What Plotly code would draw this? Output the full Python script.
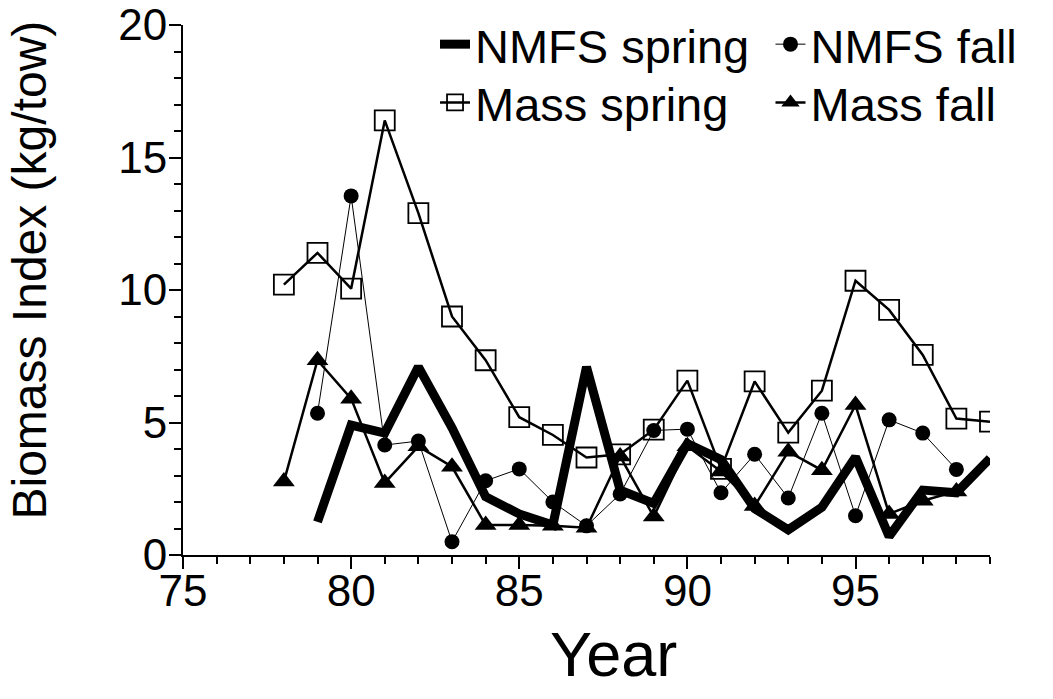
import plotly.graph_objects as go

# ---- data ----
years_nmfs_spring = [79, 80, 81, 82, 83, 84, 85, 86, 87, 88, 89, 90, 91, 92, 93, 94, 95, 96, 97, 98, 99]
nmfs_spring = [1.25, 4.9, 4.6, 7.1, 4.8, 2.2, 1.55, 1.13, 7.1, 2.45, 1.95, 4.2, 3.6, 1.75, 0.95, 1.8, 3.7, 0.7, 2.45, 2.35, 3.65]

years_nmfs_fall = [79, 80, 81, 82, 83, 84, 85, 86, 87, 88, 89, 90, 91, 92, 93, 94, 95, 96, 97, 98]
nmfs_fall = [5.35, 13.55, 4.15, 4.3, 0.5, 2.8, 3.25, 2.0, 1.1, 2.3, 4.7, 4.75, 2.35, 3.8, 2.15, 5.35, 1.48, 5.1, 4.6, 3.23]

years_mass_spring = [78, 79, 80, 81, 82, 83, 84, 85, 86, 87, 88, 89, 90, 91, 92, 93, 94, 95, 96, 97, 98, 99]
mass_spring = [10.2, 11.4, 10.05, 16.4, 12.9, 9.0, 7.35, 5.2, 4.53, 3.68, 3.8, 4.73, 6.58, 3.25, 6.55, 4.62, 6.2, 10.35, 9.25, 7.55, 5.15, 5.03]

years_mass_fall = [78, 79, 80, 81, 82, 83, 84, 85, 86, 87, 88, 89, 90, 91, 92, 93, 94, 95, 96, 97, 98]
mass_fall = [2.77, 7.35, 5.9, 2.72, 4.1, 3.33, 1.13, 1.13, 1.1, 1.03, 3.72, 1.45, 4.1, 3.15, 1.85, 3.9, 3.2, 5.66, 1.55, 2.05, 2.4]

x_range = [75, 99]
y_range = [0, 20]
x_ticks = [75, 80, 85, 90, 95]
y_ticks = [0, 5, 10, 15, 20]
x_title = "Year"
y_title = "Biomass Index (kg/tow)"

FONT = "Liberation Sans, Arial, Helvetica, sans-serif"

fig = go.Figure()

fig.add_trace(go.Scatter(
    x=years_mass_spring, y=mass_spring, name="Mass spring", mode="lines+markers",
    line=dict(color="black", width=2.5),
    marker=dict(symbol="square-open", size=20, color="black", line=dict(width=1.8, color="black")),
    legend="legend3",
))
fig.add_trace(go.Scatter(
    x=years_nmfs_fall, y=nmfs_fall, name="NMFS fall", mode="lines+markers",
    line=dict(color="black", width=1),
    marker=dict(symbol="circle", size=15, color="black"),
    legend="legend2",
))
fig.add_trace(go.Scatter(
    x=years_mass_fall, y=mass_fall, name="Mass fall", mode="lines+markers",
    line=dict(color="black", width=2.5),
    marker=dict(symbol="triangle-up", size=19, color="black"),
    legend="legend4",
))
fig.add_trace(go.Scatter(
    x=years_nmfs_spring, y=nmfs_spring, name="NMFS spring", mode="lines",
    line=dict(color="black", width=9),
    legend="legend",
))

axis_common = dict(
    showline=True, linecolor="black", linewidth=2, mirror=False,
    showgrid=False, zeroline=False, automargin=False,
    ticks="outside", tickcolor="black", tickwidth=2, ticklen=12,
    tickfont=dict(family=FONT, size=44, color="black"),
)

fig.update_xaxes(
    range=x_range, tickmode="array", tickvals=x_ticks, ticklabelstandoff=-16,
    minor=dict(dtick=1, tick0=75, ticks="outside", ticklen=7, tickcolor="black", tickwidth=2),
    **axis_common,
)
fig.update_yaxes(
    range=y_range, tickmode="array", tickvals=y_ticks, ticklabelstandoff=-7,
    minor=dict(dtick=1, tick0=0, ticks="outside", ticklen=7, tickcolor="black", tickwidth=2),
    **axis_common,
)

legend_common = dict(
    orientation="v", xref="paper", yref="paper", xanchor="left", yanchor="middle",
    font=dict(family=FONT, size=47, color="black"),
    bgcolor="rgba(0,0,0,0)", borderwidth=0,
)

col1_x, col2_x = 0.3123, 0.728
row1_y, row2_y = 0.963, 0.853

fig.update_layout(
    width=1053, height=699,
    margin=dict(l=183, r=63, t=25, b=144, autoexpand=False),
    paper_bgcolor="white", plot_bgcolor="white",
    showlegend=True,
    legend=dict(x=col1_x, y=row1_y, **legend_common),
    legend2=dict(x=col2_x, y=row1_y, **legend_common),
    legend3=dict(x=col1_x, y=row2_y, **legend_common),
    legend4=dict(x=col2_x, y=row2_y, **legend_common),
    annotations=[
        dict(text=x_title, xref="paper", yref="paper", x=0.534, y=-0.187,
             xanchor="center", yanchor="middle", showarrow=False,
             font=dict(family=FONT, size=63, color="black")),
        dict(text=y_title, xref="paper", yref="paper", x=-0.19, y=0.538,
             xanchor="center", yanchor="middle", showarrow=False, textangle=-90,
             font=dict(family=FONT, size=48, color="black")),
    ],
)

fig.write_html("out.html", config={"displayModeBar": False},
               post_script="document.body.style.margin='0';")
